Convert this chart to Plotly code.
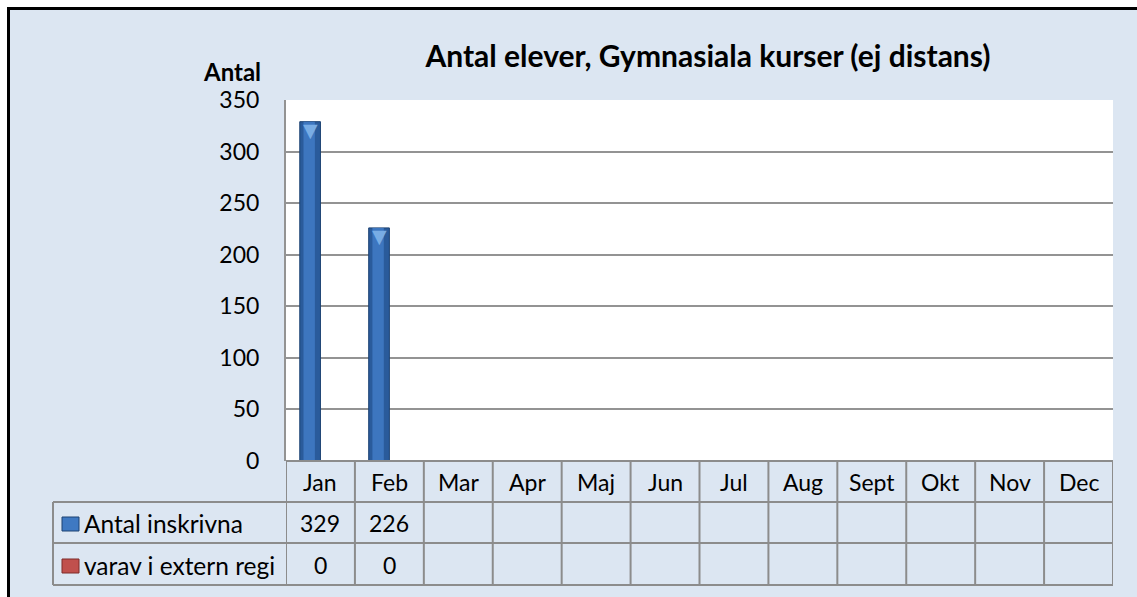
import plotly.graph_objects as go

# ---------------- data ----------------
months = ["Jan", "Feb", "Mar", "Apr", "Maj", "Jun", "Jul", "Aug", "Sept", "Okt", "Nov", "Dec"]
antal_inskrivna = [329, 226, None, None, None, None, None, None, None, None, None, None]
varav_extern = [0, 0, None, None, None, None, None, None, None, None, None, None]
series_names = ["Antal inskrivna", "varav i extern regi"]
y_ticks = [0, 50, 100, 150, 200, 250, 300, 350]
title_text = "Antal elever, Gymnasiala kurser (ej distans)"
y_title = "Antal"

# ---------------- geometry (reference page pixels; body margin removed by post_script) ----------------
OFF = 0
W, H = 1137 - OFF, 597 - OFF
ML, MR = 286 - OFF, 24
MT = 100 - OFF
MB = H - (461 - OFF)
PW, PH = W - ML - MR, H - MT - MB


def px(x):
    return (x - OFF - ML) / PW


def py(y):
    return (H - MB - (y - OFF)) / PH


FONT = "Lato"
BG = "#dce6f2"
GRID = "#939393"
TXT = "#000000"
xs = list(range(len(months)))

fig = go.Figure()
# blue bars: base + highlight layer for cylinder look
fig.add_trace(go.Bar(x=xs, y=antal_inskrivna, name=series_names[0], offset=-0.3, width=0.3,
                     marker=dict(color="#2a5b9b", line=dict(color="#1d4373", width=1)),
                     showlegend=False, hoverinfo="y"))
fig.add_trace(go.Bar(x=xs, y=antal_inskrivna, offset=-0.3 + 0.3 * 0.18, width=0.3 * 0.55,
                     marker=dict(color="#3d76bf", line=dict(width=0)),
                     showlegend=False, hoverinfo="skip"))
fig.add_trace(go.Bar(x=xs, y=varav_extern, name=series_names[1], offset=0.0, width=0.3,
                     marker=dict(color="#c0504d", line=dict(width=0)),
                     showlegend=False, hoverinfo="y"))

shapes = []
annotations = []

# light bevel cap on top of each bar (anchored to the bar's value)
for i, v in enumerate(antal_inskrivna):
    if v is not None:
        annotations.append(dict(x=i - 0.15, y=v, xref="x", yref="y", text="\u25bc", showarrow=False,
                                font=dict(family="DejaVu Sans", size=19, color="#78ace4"),
                                xanchor="center", yanchor="top", yshift=4, borderpad=0))

LINE = dict(color="#8c8c8c", width=2)

row_edges = [461, 502, 543, 585]
table_left = 53
# horizontal lines
shapes.append(dict(type="line", xref="paper", yref="paper", x0=0, x1=1, y0=py(461), y1=py(461), line=LINE))
for ye in row_edges[1:]:
    shapes.append(dict(type="line", xref="paper", yref="paper", x0=px(table_left), x1=1,
                       y0=py(ye), y1=py(ye), line=LINE))
# vertical lines at category boundaries
for i in range(len(months) + 1):
    shapes.append(dict(type="line", xref="x", yref="paper", x0=i - 0.5, x1=i - 0.5,
                       y0=py(461), y1=py(585), line=LINE))
shapes.append(dict(type="line", xref="paper", yref="paper", x0=px(table_left), x1=px(table_left),
                   y0=py(502), y1=py(585), line=LINE))

# month labels
for i, m in enumerate(months):
    annotations.append(dict(x=i, y=py(482), xref="x", yref="paper", text=m, showarrow=False,
                            font=dict(family=FONT, size=23, color=TXT), xanchor="center", yanchor="middle"))
# row values
for row_vals, yc in ((antal_inskrivna, 523), (varav_extern, 565)):
    for i, v in enumerate(row_vals):
        if v is not None:
            annotations.append(dict(x=i, y=py(yc), xref="x", yref="paper", text=str(v), showarrow=False,
                                    font=dict(family=FONT, size=23, color=TXT), xanchor="center",
                                    yanchor="middle"))
# row labels + legend keys
key_cols = [("#3f79c2", "#1d4373"), ("#c0504d", "#7f2a28")]
for (name, yc, (kc, kl)) in zip(series_names, (523, 565), key_cols):
    annotations.append(dict(x=px(82), y=py(yc), xref="paper", yref="paper", text=name, showarrow=False,
                            font=dict(family=FONT, size=24.5, color=TXT), xanchor="left", yanchor="middle"))
    shapes.append(dict(type="rect", xref="paper", yref="paper", x0=px(62), x1=px(79),
                       y0=py(yc - 6), y1=py(yc + 8), fillcolor=kc, line=dict(color=kl, width=1)))

# y axis title
annotations.append(dict(x=px(263), y=py(71), xref="paper", yref="paper", text="<b>" + y_title + "</b>",
                        showarrow=False, font=dict(family=FONT, size=24, color=TXT),
                        xanchor="right", yanchor="middle"))

# white surround outside the black frame + black frame (left + top)
shapes.append(dict(type="rect", xref="paper", yref="paper", x0=px(0), x1=px(8), y0=py(0), y1=py(H),
                   fillcolor="#ffffff", line=dict(width=0), layer="below"))
shapes.append(dict(type="rect", xref="paper", yref="paper", x0=px(0), x1=px(W), y0=py(0), y1=py(8),
                   fillcolor="#ffffff", line=dict(width=0), layer="below"))
shapes.append(dict(type="line", xref="paper", yref="paper", x0=px(8.5), x1=px(8.5), y0=py(7), y1=py(H + 5),
                   line=dict(color="#000000", width=3)))
shapes.append(dict(type="line", xref="paper", yref="paper", x0=px(7), x1=px(W + 5), y0=py(8.5), y1=py(8.5),
                   line=dict(color="#000000", width=3)))

fig.update_layout(
    width=W, height=H,
    margin=dict(l=ML, r=MR, t=MT, b=MB),
    paper_bgcolor=BG, plot_bgcolor="#ffffff",
    barmode="overlay",
    title=dict(text="<b>" + title_text + "</b>", x=(708 - OFF) / W, xanchor="center",
               y=1 - (56 - OFF) / H, yanchor="middle", font=dict(family=FONT, size=30, color=TXT)),
    xaxis=dict(range=[-0.5, len(months) - 0.5], showticklabels=False, showgrid=False,
               zeroline=False, showline=False, fixedrange=True),
    yaxis=dict(range=[0, 350], tickvals=y_ticks, showgrid=True, gridcolor=GRID, gridwidth=2,
               zeroline=False, showline=True, linecolor=GRID, linewidth=2,
               ticks="", ticklabelstandoff=20,
               tickfont=dict(family=FONT, size=23, color=TXT), fixedrange=True),
    shapes=shapes,
    annotations=annotations,
    showlegend=False,
)

fig.write_html(
    "out.html",
    config={"displayModeBar": False},
    post_script=("document.body.style.margin='0px';"
                 "document.documentElement.style.overflow='hidden';"
                 "document.body.style.overflow='hidden';"),
)
